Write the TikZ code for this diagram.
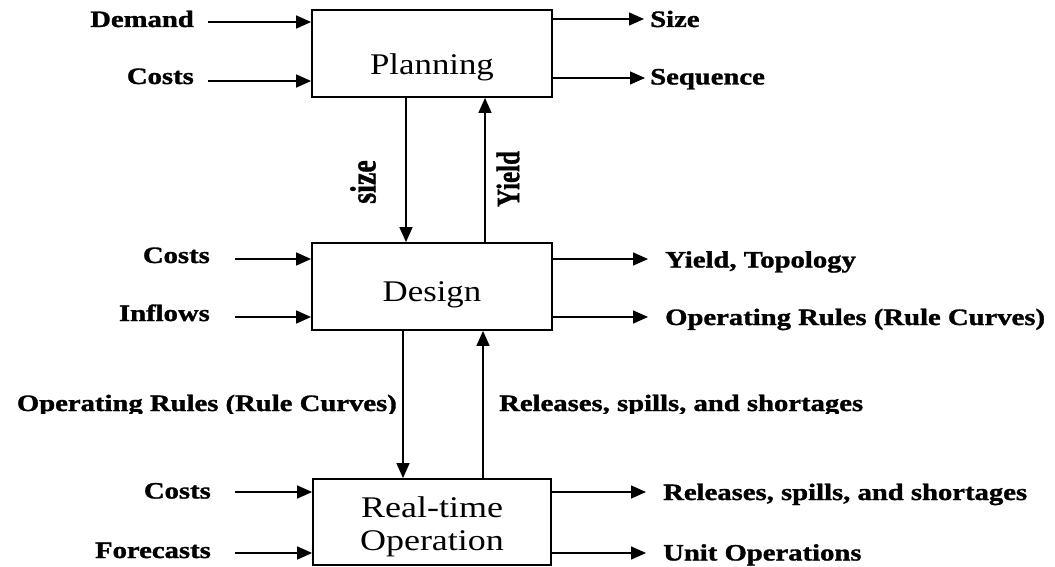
\documentclass[tikz,border=0pt]{standalone}
\usepackage{fontspec}
\usepackage{graphicx}
\setmainfont{Liberation Serif}[BoldFeatures={FakeBold=1.2}]
\usetikzlibrary{arrows.meta}
% horizontally widened text
\newcommand\wide[1]{\scalebox{1.22}[1]{#1}}
\newcommand\thick[1]{\scalebox{1.3}[1]{#1}}
\newcommand\boxwide[1]{\scalebox{1.16}[1]{#1}}

\begin{document}
\begin{tikzpicture}[x=1pt,y=-1pt,
  stage/.style={draw, line width=1.8pt, inner sep=0pt, minimum width=240pt, minimum height=87pt},
  flow/.style={-{Triangle[length=15pt,width=13pt]}, line width=1.5pt},
  lbl/.style={font=\fontsize{23.5}{26}\selectfont\bfseries, inner sep=0pt},
  stagetxt/.style={font=\fontsize{30}{33}\selectfont, inner sep=0pt}]
\useasboundingbox (0,0) rectangle (1055,567);

% ---------- the three stages ----------
\node[stage] (plan) at (432,53.5) {};
\node[stage] (des)  at (432,286.5) {};
\node[stage, minimum width=238pt, minimum height=86pt] (rt) at (432,522) {};

\node[stagetxt, anchor=base] (planT) at (432,75) {\boxwide{Planning}};
\node[stagetxt, anchor=base] (desT)  at (432,301) {\boxwide{Design}};
\node[stagetxt, anchor=base] (rtT1)  at (432,517) {\scalebox{1.2}[1]{Real-time}};
\node[stagetxt, anchor=base] (rtT2)  at (432,550) {\scalebox{1.2}[1]{Operation}};

% ---------- planning: inputs and outputs ----------
\coordinate (pin1) at (208,22);
\coordinate (pin2) at (208,81);
\draw[flow] (pin1) -- (pin1 -| plan.west);
\draw[flow] (pin2) -- (pin2 -| plan.west);
\node[lbl, anchor=base east] (demL)  at (194,27) {\wide{Demand}};
\node[lbl, anchor=base east] (pcL)   at (194,84) {\wide{Costs}};

\coordinate (pout1) at (644,19);
\coordinate (pout2) at (645,78);
\draw[flow] (pout1 -| plan.east) -- (pout1);
\draw[flow] (pout2 -| plan.east) -- (pout2);
\node[lbl, anchor=base west] (sizeL) at (650,27) {\wide{Size}};
\node[lbl, anchor=base west] (seqL)  at (650,84.5) {\wide{Sequence}};

% ---------- planning <-> design ----------
\draw[flow] ([xshift=-26pt]plan.south) -- ([xshift=-26pt]des.north);
\draw[flow] ([xshift=53pt]des.north) -- ([xshift=53pt]plan.south);
\node[lbl, font=\fontsize{28}{30}\selectfont\bfseries] (sizeV) at (363,182) {\thick{\rotatebox{90}{size}}};
\node[lbl, font=\fontsize{25}{30}\selectfont\bfseries] (yieldV) at (508,179) {\thick{\rotatebox{90}{Yield}}};

% ---------- design: inputs and outputs ----------
\coordinate (din1) at (235,259);
\coordinate (din2) at (235,317);
\draw[flow] (din1) -- (din1 -| des.west);
\draw[flow] (din2) -- (din2 -| des.west);
\node[lbl, anchor=base east] (dcL) at (210,263) {\wide{Costs}};
\node[lbl, anchor=base east] (inL) at (210,321) {\wide{Inflows}};

\coordinate (dout1) at (648,259);
\coordinate (dout2) at (648,317);
\draw[flow] (dout1 -| des.east) -- (dout1);
\draw[flow] (dout2 -| des.east) -- (dout2);
\node[lbl, anchor=base west] (ytL) at (665,267.5) {\wide{Yield, Topology}};
\node[lbl, anchor=base west] (orL) at (665,325) {\wide{Operating Rules (Rule Curves)}};

% ---------- design <-> real-time operation ----------
\draw[flow] ([xshift=-29pt]des.south) -- ([xshift=-29pt]rt.north);
\draw[flow] ([xshift=51pt]rt.north) -- ([xshift=51pt]des.south);
\begin{scope}
  \clip (0,380) rectangle (1055,413);
  \node[lbl, anchor=base east] (orV) at (397,411) {\wide{Operating Rules (Rule Curves)}};
  \node[lbl, anchor=base west] (rsV) at (499,411) {\wide{Releases, spills, and shortages}};
\end{scope}

% ---------- real-time operation: inputs and outputs ----------
\coordinate (rin1) at (235,492);
\coordinate (rin2) at (235,553);
\draw[flow] (rin1) -- (rin1 -| rt.west);
\draw[flow] (rin2) -- (rin2 -| rt.west);
\node[lbl, anchor=base east] (rcL) at (211,498.5) {\wide{Costs}};
\node[lbl, anchor=base east] (fcL) at (211,558) {\wide{Forecasts}};

\coordinate (rout1) at (646,492);
\coordinate (rout2) at (646,553);
\draw[flow] (rout1 -| rt.east) -- (rout1);
\draw[flow] (rout2 -| rt.east) -- (rout2);
\node[lbl, anchor=base west] (rsL) at (663,500) {\wide{Releases, spills, and shortages}};
\node[lbl, anchor=base west] (uoL) at (663,560.5) {\wide{Unit Operations}};
\end{tikzpicture}
\end{document}
